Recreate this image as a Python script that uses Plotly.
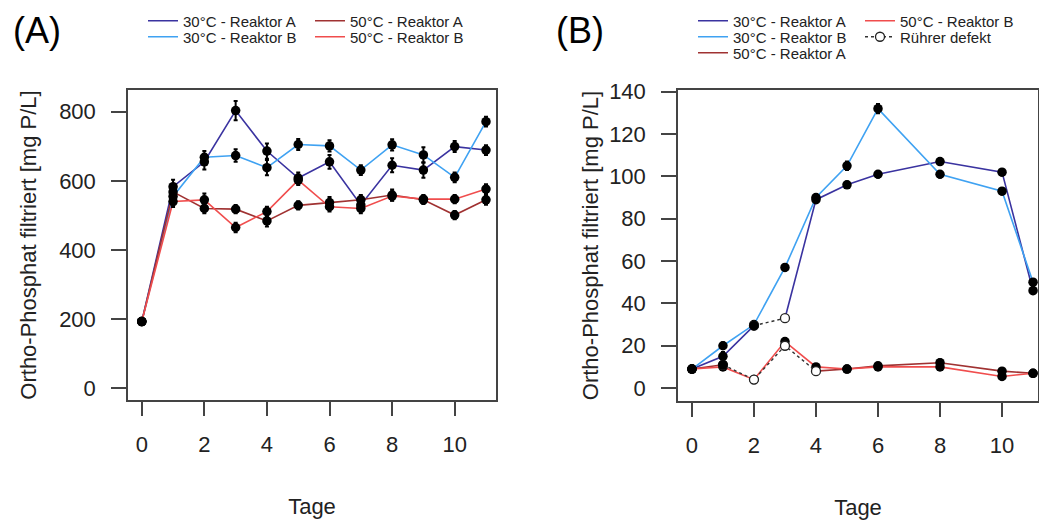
import plotly.graph_objects as go

# ---------------- data ----------------
series_names = ["30°C - Reaktor A", "30°C - Reaktor B", "50°C - Reaktor A", "50°C - Reaktor B"]
series_colors = ["#3a33a0", "#3fa2f2", "#a03232", "#f04d4d"]

# Panel A
days_A = [0, 1, 2, 3, 4, 5, 6, 7, 8, 9, 10, 11]
a_30A = [193, 583, 655, 803, 686, 608, 655, 530, 645, 631, 699, 689]
a_30B = [193, 555, 668, 673, 638, 705, 701, 631, 704, 675, 610, 771]
a_50A = [193, 568, 520, 518, 484, 529, 537, 545, 559, 545, 501, 545]
a_50B = [193, 540, 545, 465, 511, 602, 525, 520, 556, 547, 547, 576]
a_30A_err = [8, 20, 22, 28, 22, 16, 20, 15, 20, 22, 16, 14]
a_30B_err = [8, 15, 18, 18, 22, 16, 16, 14, 16, 22, 14, 14]
a_50A_err = [8, 15, 14, 12, 16, 12, 16, 14, 16, 12, 12, 14]
a_50B_err = [8, 16, 18, 14, 14, 14, 14, 14, 14, 12, 12, 14]

# Panel B
days_B = [0, 1, 2, 3, 4, 5, 6, 8, 10, 11]
b_30A = [9, 15, 29.5, 33, 89, 96, 101, 107, 102, 46]
b_30B = [9, 20, 30, 57, 90, 105, 132, 101, 93, 50]
b_50A = [9, 11, 4, 20, 8, 9, 10.5, 12, 8, 7]
b_50B = [9, 10, 4, 22, 10, 9, 10, 10, 5.5, 7]
b_30A_err = [1, 2, 1.5, 1, 1.5, 1.5, 1.5, 1.5, 1.5, 1.5]
b_30B_err = [1, 1.5, 1, 1.5, 1.5, 2, 2.2, 1.5, 1.5, 1.5]
b_50A_err = [1, 1.5, 0, 0, 0, 1, 1, 1.5, 1, 1]
b_50B_err = [1, 1.5, 1, 1.5, 1, 1, 1, 1.5, 1.5, 1]
# days with defective stirrer (per series, panel B)
b_defect = [[3], [], [2, 3, 4], []]
defect_label = "Rührer defekt"

xticks = [0, 2, 4, 6, 8, 10]
yticks_A = [0, 200, 400, 600, 800]
yticks_B = [0, 20, 40, 60, 80, 100, 120, 140]

FONT = "Liberation Sans, Arial, sans-serif"
AX = "#444444"

fig = go.Figure()

# ---------------- panel A ----------------
legA = ["legend", "legend2", "legend3", "legend4"]
for name, col, y, lg in zip(series_names, series_colors,
                            [a_30A, a_30B, a_50A, a_50B], legA):
    fig.add_trace(go.Scatter(x=days_A, y=y, mode="lines", name=name,
                             line=dict(color=col, width=1.6),
                             legend=lg, xaxis="x", yaxis="y"))
for y, err in zip([a_30A, a_30B, a_50A, a_50B],
                  [a_30A_err, a_30B_err, a_50A_err, a_50B_err]):
    fig.add_trace(go.Scatter(x=days_A, y=y, mode="markers", showlegend=False,
                             marker=dict(color="black", size=9.5),
                             error_y=dict(type="data", array=err, color="black",
                                          thickness=2, width=2),
                             xaxis="x", yaxis="y", hoverinfo="skip"))

# ---------------- panel B ----------------
legB = ["legend5", "legend6", "legend7", "legend8"]
ser_B = [b_30A, b_30B, b_50A, b_50B]
err_B = [b_30A_err, b_30B_err, b_50A_err, b_50B_err]
defect_segments = []  # (series colour, x list, y list) of dotted pieces
defect_x, defect_y = [], []
for name, col, y, defs, lg in zip(series_names, series_colors, ser_B, b_defect, legB):
    xs, ys = [], []
    for i, d in enumerate(days_B):
        if d in defs:
            # segment ending at a defective day is drawn dotted
            if xs and xs[-1] is not None:
                xs.append(None); ys.append(None)
            if i > 0:
                if not defect_x or defect_x[-1] != days_B[i - 1]:
                    if defect_x:
                        defect_x.append(None); defect_y.append(None)
                    defect_x.append(days_B[i - 1]); defect_y.append(y[i - 1])
                defect_x.append(d); defect_y.append(y[i])
            xs.append(d); ys.append(y[i])
        else:
            xs.append(d); ys.append(y[i])
    fig.add_trace(go.Scatter(x=xs, y=ys, mode="lines", name=name,
                             line=dict(color=col, width=1.6),
                             legend=lg, xaxis="x2", yaxis="y2"))

for y, err, defs in zip(ser_B, err_B, b_defect):
    keep = [i for i, d in enumerate(days_B) if d not in defs]
    fig.add_trace(go.Scatter(x=[days_B[i] for i in keep], y=[y[i] for i in keep],
                             mode="markers", showlegend=False,
                             marker=dict(color="black", size=9.5),
                             error_y=dict(type="data", array=[err[i] for i in keep],
                                          color="black", thickness=2, width=2),
                             xaxis="x2", yaxis="y2", hoverinfo="skip"))

# defective-stirrer points: dotted line + open circles
fig.add_trace(go.Scatter(x=defect_x, y=defect_y, mode="lines+markers", name=defect_label,
                         line=dict(color="#333333", width=1.4, dash="dot"),
                         marker=dict(symbol="circle", size=9,
                                     color="white", line=dict(color="#222222", width=1.3)),
                         legend="legend9", xaxis="x2", yaxis="y2"))
# start points of dotted segments are regular points -> cover with filled markers again
starts = []
for i in range(len(defect_x)):
    if defect_x[i] is not None and (i == 0 or defect_x[i - 1] is None):
        starts.append(i)
fig.add_trace(go.Scatter(x=[defect_x[i] for i in starts], y=[defect_y[i] for i in starts],
                         mode="markers", showlegend=False,
                         marker=dict(color="black", size=9.5),
                         xaxis="x2", yaxis="y2", hoverinfo="skip"))

# ---------------- layout ----------------
W, H = 1039, 520
def px(x):
    return x / W
def py(y):
    return 1 - y / H

axis_common = dict(showline=True, mirror=True, linecolor=AX, linewidth=1.5,
                   ticks="outside", tickcolor=AX, tickwidth=1.5,
                   showgrid=False, zeroline=False, automargin=False,
                   tickfont=dict(family=FONT, size=22, color="#222"),
                   title_font=dict(family=FONT, size=22, color="#222"))

fig.update_layout(
    width=W, height=H,
    margin=dict(l=0, r=0, t=0, b=0),
    paper_bgcolor="white", plot_bgcolor="white",
    font=dict(family=FONT, color="#222"),
    xaxis=dict(domain=[px(128), px(496)], range=[-0.44, 11.32], tickvals=xticks,
               ticklen=14, ticklabelstandoff=10,
               title=dict(text="Tage", standoff=42), anchor="y", **axis_common),
    yaxis=dict(domain=[py(400), py(90)], range=[-33.8, 862.6], tickvals=yticks_A,
               ticklen=15, ticklabelstandoff=11,
               title=dict(text="Ortho-Phosphat filtriert [mg P/L]", standoff=16),
               anchor="x", **axis_common),
    xaxis2=dict(domain=[px(678), px(1038)], range=[-0.45, 11.16], tickvals=xticks,
                ticklen=14, ticklabelstandoff=10,
                title=dict(text="Tage", standoff=42), anchor="y2", **axis_common),
    yaxis2=dict(domain=[py(401), py(90)], range=[-6.1, 140.8], tickvals=yticks_B,
                ticklen=15, ticklabelstandoff=11,
                title=dict(text="Ortho-Phosphat filtriert [mg P/L]", standoff=4),
                anchor="x2", **axis_common),
    annotations=[
        dict(text="(A)", x=px(37), y=py(30), xref="paper", yref="paper",
             xanchor="center", yanchor="middle",
             showarrow=False, font=dict(family=FONT, size=36, color="black")),
        dict(text="(B)", x=px(580), y=py(30), xref="paper", yref="paper",
             xanchor="center", yanchor="middle",
             showarrow=False, font=dict(family=FONT, size=36, color="black")),
    ],
)

leg_pos = {
    "legend": (143, 21), "legend2": (143, 37), "legend3": (310, 21), "legend4": (310, 37),
    "legend5": (693, 21), "legend6": (693, 37), "legend7": (693, 53), "legend8": (860, 21),
    "legend9": (860, 37),
}
for lg, (lx, ly) in leg_pos.items():
    fig.update_layout({lg: dict(x=px(lx), y=py(ly), xanchor="left", yanchor="middle",
                                bgcolor="rgba(0,0,0,0)", borderwidth=0, itemwidth=30,
                                font=dict(family=FONT, size=15, color="#222"))})

fig.write_html("out.html", config={"displayModeBar": False},
               post_script="document.body.style.margin='0px';")
